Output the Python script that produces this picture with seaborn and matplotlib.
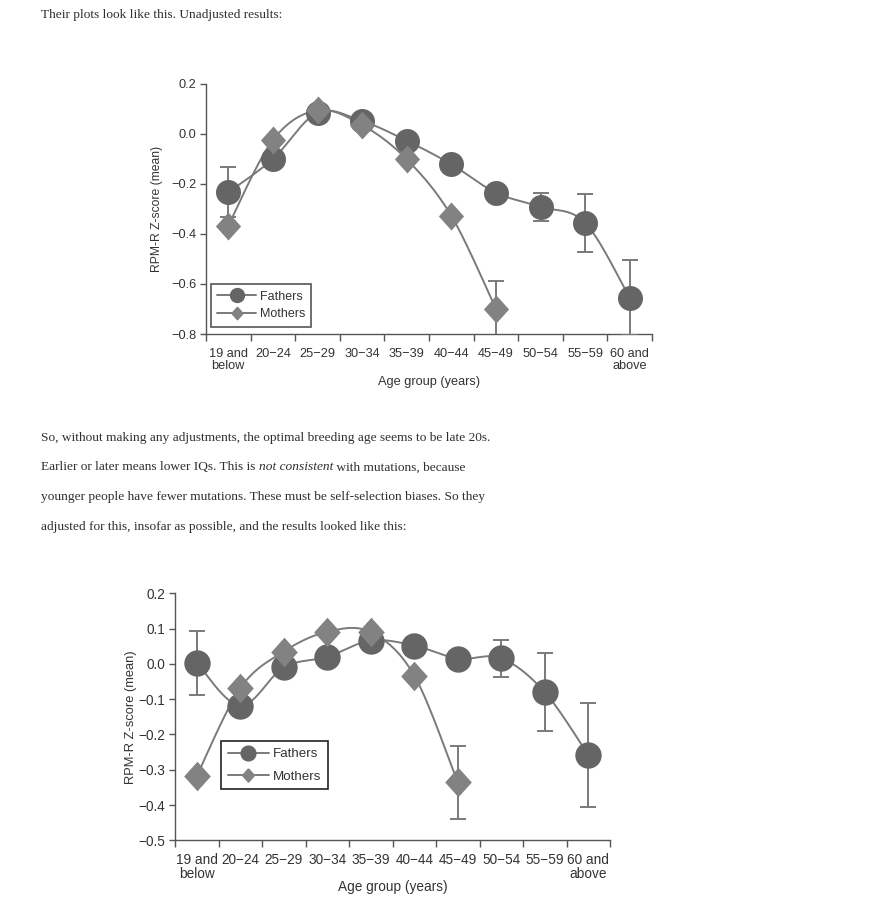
import numpy as np
import pandas as pd
import seaborn as sns
import matplotlib.pyplot as plt
from matplotlib.lines import Line2D

# age groups shared by both plots
ages = ["19 and\nbelow", "20\u221224", "25\u221229", "30\u221234", "35\u221239",
        "40\u221244", "45\u221249", "50\u221254", "55\u221259", "60 and\nabove"]

# unadjusted results
raw_fathers = [-0.233, -0.100, 0.085, 0.052, -0.027, -0.121, -0.235, -0.291, -0.355, -0.655]
raw_fathers_err = [0.10, 0, 0, 0, 0, 0, 0, 0.057, 0.117, 0.15]
raw_mothers = [-0.367, -0.024, 0.095, 0.036, -0.101, -0.327, -0.699]
raw_mothers_err = [0, 0, 0, 0, 0, 0, 0.11]

# adjusted results
adj_fathers = [0.003, -0.119, -0.010, 0.020, 0.066, 0.052, 0.015, 0.016, -0.080, -0.258]
adj_fathers_err = [0.09, 0, 0, 0, 0, 0, 0, 0.053, 0.11, 0.148]
adj_mothers = [-0.318, -0.069, 0.035, 0.091, 0.090, -0.033, -0.336]
adj_mothers_err = [0, 0, 0, 0, 0, 0, 0.103]

intro = "Their plots look like this. Unadjusted results:"
para = ["So, without making any adjustments, the optimal breeding age seems to be late 20s.",
        "Earlier or later means lower IQs. This is |not consistent| with mutations, because",
        "younger people have fewer mutations. These must be self-selection biases. So they",
        "adjusted for this, insofar as possible, and the results looked like this:"]

sns.set_theme(style="ticks")
plt.rcParams["font.family"] = ["Liberation Sans", "DejaVu Sans"]

DARK = "#656565"
LIGHT = "#828282"
LINE = "#7a7a7a"
diamond = [(0, 1), (0.9, 0), (0, -1), (-0.9, 0), (0, 1)]


def smooth(y, n=30):
    # catmull-rom curve through the points, like the spreadsheet's smoothed line
    x = np.arange(len(y), dtype=float)
    p = np.column_stack([x, np.asarray(y, dtype=float)])
    out = []
    for i in range(len(p) - 1):
        p0 = p[i - 1] if i > 0 else p[i]
        p1, p2 = p[i], p[i + 1]
        p3 = p[i + 2] if i + 2 < len(p) else p[i + 1]
        t = np.linspace(0, 1, n)[:, None]
        seg = 0.5 * (2 * p1 + (-p0 + p2) * t + (2 * p0 - 5 * p1 + 4 * p2 - p3) * t ** 2
                     + (-p0 + 3 * p1 - 3 * p2 + p3) * t ** 3)
        out.append(seg)
    out = np.vstack(out)
    return pd.DataFrame({"x": out[:, 0], "y": out[:, 1]})


def draw(ax, fathers, f_err, mothers, m_err, ylim, yticks, msize, fs, xpad, lsp,
         xlpad, ylpad, leg_fs, leg_anchor, leg_sp, leg_edge):
    for vals, err, col, mk, ms in [(fathers, f_err, DARK, "o", msize),
                                   (mothers, m_err, LIGHT, diamond, msize * 1.12)]:
        curve = smooth(vals)
        sns.lineplot(data=curve, x="x", y="y", ax=ax, color=LINE, lw=1.4, sort=False,
                     estimator=None, zorder=2)
        xs = np.arange(len(vals))
        e = np.array(err, dtype=float)
        m = e > 0
        ax.errorbar(xs[m], np.array(vals)[m], yerr=e[m], fmt="none", ecolor=LINE,
                    elinewidth=1.4, capsize=6, capthick=1.4, zorder=3)
        pts = pd.DataFrame({"x": xs, "y": vals})
        sns.scatterplot(data=pts, x="x", y="y", ax=ax, marker=mk, s=ms ** 2,
                        color=col, edgecolor=col, linewidth=0, zorder=4)

    ax.set_xlim(-0.5, 9.5)
    ax.set_ylim(*ylim)
    ax.set_yticks(yticks)
    ax.set_yticklabels([f"{v:.1f}".replace("-", "\u2212") for v in yticks], fontsize=fs)
    ax.set_xticks(np.arange(-0.5, 10, 1))
    ax.set_xticklabels([])
    ax.set_xticks(np.arange(10), minor=True)
    ax.set_xticklabels(ages, minor=True, fontsize=fs, linespacing=lsp)
    ax.tick_params(axis="x", which="minor", length=0, pad=xpad, colors="#333333")
    ax.tick_params(axis="x", which="major", length=5, width=1, color="#555555")
    ax.tick_params(axis="y", length=4, width=1, color="#555555", labelcolor="#333333", pad=3)
    sns.despine(ax=ax)
    for s in ["left", "bottom"]:
        ax.spines[s].set_color("#555555")
        ax.spines[s].set_linewidth(1)
    ax.set_xlabel("Age group (years)", fontsize=fs, color="#333333", labelpad=xlpad)
    ax.set_ylabel("RPM-R Z-score (mean)", fontsize=fs - 0.5, color="#333333", labelpad=ylpad)

    handles = [Line2D([], [], color=LINE, lw=1.4, marker="o", markersize=leg_fs + 1,
                      markerfacecolor=DARK, markeredgecolor=DARK),
               Line2D([], [], color=LINE, lw=1.4, marker=diamond, markersize=leg_fs,
                      markerfacecolor=LIGHT, markeredgecolor=LIGHT)]
    leg = ax.legend(handles, ["Fathers", "Mothers"], loc="lower left",
                    bbox_to_anchor=leg_anchor, fontsize=leg_fs, handlelength=3.1,
                    fancybox=False, framealpha=1, edgecolor=leg_edge, borderpad=0.5,
                    labelspacing=leg_sp, handletextpad=0.3, borderaxespad=0)
    leg.get_frame().set_linewidth(1.2)
    for t in leg.get_texts():
        t.set_color("#333333")


fig = plt.figure(figsize=(8.94, 9.09), dpi=100)

ax1 = fig.add_axes([206 / 894, 1 - 334 / 909, 446 / 894, 250 / 909])
draw(ax1, raw_fathers, raw_fathers_err, raw_mothers, raw_mothers_err,
     (-0.8, 0.2), [0.2, 0.0, -0.2, -0.4, -0.6, -0.8], 18, 9.2, 10, 1.0, 3, 6,
     9, (0.011, 0.03), 0.45, "#555555")

ax2 = fig.add_axes([175 / 894, 1 - 840.3 / 909, 435 / 894, 247 / 909])
draw(ax2, adj_fathers, adj_fathers_err, adj_mothers, adj_mothers_err,
     (-0.5, 0.2), [0.2, 0.1, 0.0, -0.1, -0.2, -0.3, -0.4, -0.5], 19, 9.8, 9, 1.05, -1, 1,
     9.6, (0.106, 0.206), 0.75, "#222222")

# blog text around the plots
body = dict(family=["Liberation Serif", "DejaVu Serif"], fontsize=9.6, color="#2e2e2e",
            va="center", ha="left")
fig.text(41 / 894, 1 - 15 / 909, intro, **body)
ys = [438, 467.5, 497, 527]
for yy, line in zip(ys, para):
    if "|" in line:
        a, b, c = line.split("|")
        t = fig.text(41 / 894, 1 - yy / 909, a, **body)
        fig.canvas.draw()
        bb = t.get_window_extent()
        t2 = fig.text(bb.x1 / 894, 1 - yy / 909, b, style="italic", **body)
        bb2 = t2.get_window_extent()
        fig.text(bb2.x1 / 894, 1 - yy / 909, c, **body)
    else:
        fig.text(41 / 894, 1 - yy / 909, line, **body)

fig.savefig("out.png", dpi=100, facecolor="white")
